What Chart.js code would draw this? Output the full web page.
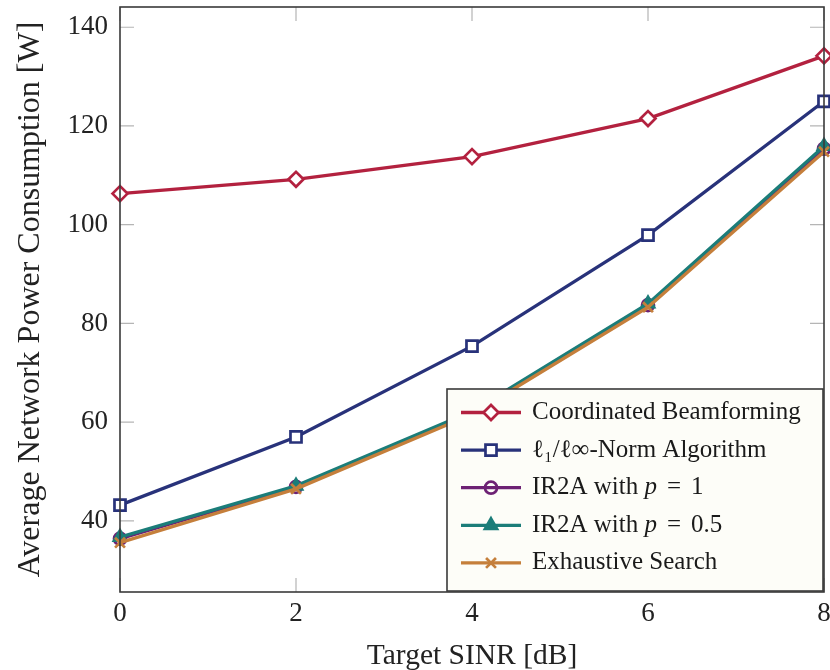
<!DOCTYPE html>
<html>
<head>
<meta charset="utf-8">
<script src="https://cdn.jsdelivr.net/npm/chart.js@4.4.0/dist/chart.umd.min.js"></script>
<style>
  html, body { margin: 0; padding: 0; background: #fff; }
  #wrap { width: 830px; height: 670px; }
</style>
</head>
<body>
<div id="wrap"><canvas id="chart" width="830" height="670"></canvas></div>
<script>
// values
const snr = [0, 2, 4, 6, 8];
const coordBF = [106.3, 109.2, 113.8, 121.5, 134.2];
const l1Norm = [43.2, 57.0, 75.4, 97.9, 125.0];
const ir2aP1 = [36.4, 46.9, 62.0, 83.7, 115.4];
const ir2aP05 = [36.7, 47.1, 62.2, 84.0, 115.9];
const exhaustive = [35.6, 46.5, 61.6, 83.3, 114.8];

const xTicks = [0, 2, 4, 6, 8];
const yTicks = [40, 60, 80, 100, 120, 140];

const labels = [
  'Coordinated Beamforming',
  'ℓ₁/ℓ∞-Norm Algorithm',
  'IR2A with p = 1',
  'IR2A with p = 0.5',
  'Exhaustive Search'
];

const SERIF = "'Liberation Serif', 'DejaVu Serif', 'Times New Roman', serif";

function series(label, values, color, style, radius, order, fill) {
  return {
    label: label,
    data: values.map((v, i) => ({ x: snr[i], y: v })),
    borderColor: color,
    backgroundColor: color,
    borderWidth: 3.3,
    pointStyle: style,
    pointRadius: radius,
    pointHoverRadius: radius,
    pointBorderWidth: 2.7,
    pointBorderColor: color,
    pointBackgroundColor: fill,
    tension: 0,
    clip: false,
    order: order
  };
}

const datasets = [
  series(labels[0], coordBF, '#b3213f', 'rectRot', 7.5, 5, '#ffffff'),
  series(labels[1], l1Norm, '#28327a', 'rect', 7.8, 4, '#ffffff'),
  series(labels[2], ir2aP1, '#6d2174', 'circle', 6, 3, 'rgba(255,255,255,0)'),
  series(labels[3], ir2aP05, '#1b7d79', 'triangle', 7, 2, '#1b7d79'),
  series(labels[4], exhaustive, '#c57f3b', 'crossRot', 7, 1, '#c57f3b')
];

function drawMark(ctx, ds, x, y) {
  ctx.save();
  ctx.strokeStyle = ds.pointBorderColor;
  ctx.fillStyle = ds.pointBackgroundColor;
  ctx.lineWidth = ds.pointBorderWidth;
  Chart.helpers.drawPoint(ctx, {
    pointStyle: ds.pointStyle,
    radius: ds.pointRadius,
    rotation: 0,
    borderWidth: ds.pointBorderWidth
  }, x, y);
  ctx.restore();
}

// pgfplots-like frame with inward ticks on all four sides
const framePlugin = {
  id: 'frame',
  beforeDatasetsDraw(chart) {
    const { ctx, chartArea: a, scales } = chart;
    ctx.save();
    ctx.strokeStyle = '#b5b5b5';
    ctx.lineWidth = 1.2;
    ctx.beginPath();
    yTicks.forEach(v => {
      const py = scales.y.getPixelForValue(v);
      ctx.moveTo(a.left, py); ctx.lineTo(a.left + 14, py);
      ctx.moveTo(a.right, py); ctx.lineTo(a.right - 14, py);
    });
    xTicks.forEach(v => {
      const px = scales.x.getPixelForValue(v);
      ctx.moveTo(px, a.bottom); ctx.lineTo(px, a.bottom - 14);
      ctx.moveTo(px, a.top); ctx.lineTo(px, a.top + 14);
    });
    ctx.stroke();
    ctx.restore();
  },
  afterDatasetsDraw(chart) {
    const { ctx, chartArea: a } = chart;
    ctx.save();
    ctx.strokeStyle = '#3a3a3a';
    ctx.lineWidth = 1.6;
    ctx.strokeRect(a.left, a.top, a.right - a.left, a.bottom - a.top);
    ctx.restore();
  }
};

// legend box in the lower right corner of the plot
const legendPlugin = {
  id: 'boxLegend',
  afterDraw(chart) {
    const { ctx, chartArea: a } = chart;
    const w = 376, h = 202;
    const left = a.right - w - 1, top = a.bottom - h - 1;
    ctx.save();
    ctx.fillStyle = '#fdfdf8';
    ctx.fillRect(left, top, w, h);
    ctx.strokeStyle = '#3a3a3a';
    ctx.lineWidth = 1.6;
    ctx.strokeRect(left, top, w, h);

    chart.data.datasets.forEach((ds, i) => {
      const y = top + 23.5 + i * 37.6;
      ctx.strokeStyle = ds.borderColor;
      ctx.lineWidth = 3.3;
      ctx.beginPath();
      ctx.moveTo(left + 14, y);
      ctx.lineTo(left + 74, y);
      ctx.stroke();
      drawMark(ctx, ds, left + 44, y);

      // plain text, with the math variable p in italics
      let x = left + 85;
      ctx.fillStyle = '#1a1a1a';
      ctx.textBaseline = 'middle';
      ctx.textAlign = 'left';
      const words = ds.label.split(' ');
      words.forEach((wd, k) => {
        ctx.font = (wd === 'p' ? 'italic ' : '') + '25px ' + SERIF;
        ctx.fillText(wd, x, y);
        x += ctx.measureText(wd).width;
        if (k < words.length - 1) {
          ctx.font = '25px ' + SERIF;
          x += ctx.measureText(' ').width * (wd === 'p' || wd === '=' ? 1.6 : 1);
        }
      });
    });
    ctx.restore();
  }
};

const ctx = document.getElementById('chart').getContext('2d');
new Chart(ctx, {
  type: 'line',
  data: { datasets: datasets },
  options: {
    responsive: false,
    animation: false,
    layout: { autoPadding: false, padding: { top: 7, right: 6, left: 0, bottom: 0 } },
    plugins: {
      legend: { display: false },
      tooltip: { enabled: false }
    },
    scales: {
      x: {
        type: 'linear',
        min: 0,
        max: 8,
        afterBuildTicks: s => { s.ticks = xTicks.map(v => ({ value: v })); },
        afterFit: s => {
          s.height = 78;
          s.paddingLeft = 0;
          s.paddingRight = 0;
        },
        grid: { display: false, drawTicks: false },
        border: { display: false },
        ticks: {
          padding: 6,
          color: '#222',
          font: { family: SERIF, size: 27 }
        },
        title: {
          display: true,
          text: 'Target SINR [dB]',
          color: '#222',
          font: { family: SERIF, size: 29.5 },
          padding: { top: 0, bottom: -4 }
        }
      },
      y: {
        type: 'linear',
        min: 25.6,
        max: 144.1,
        afterBuildTicks: s => { s.ticks = yTicks.map(v => ({ value: v })); },
        afterFit: s => {
          s.width = 120;
          s.paddingTop = 0;
          s.paddingBottom = 0;
        },
        grid: { display: false, drawTicks: false },
        border: { display: false },
        ticks: {
          padding: 12,
          color: '#222',
          font: { family: SERIF, size: 27 }
        },
        title: {
          display: true,
          text: 'Average Network Power Consumption [W]',
          color: '#222',
          font: { family: SERIF, size: 32 },
          padding: { top: 11, bottom: 0 }
        }
      }
    }
  },
  plugins: [framePlugin, legendPlugin]
});
</script>
</body>
</html>
